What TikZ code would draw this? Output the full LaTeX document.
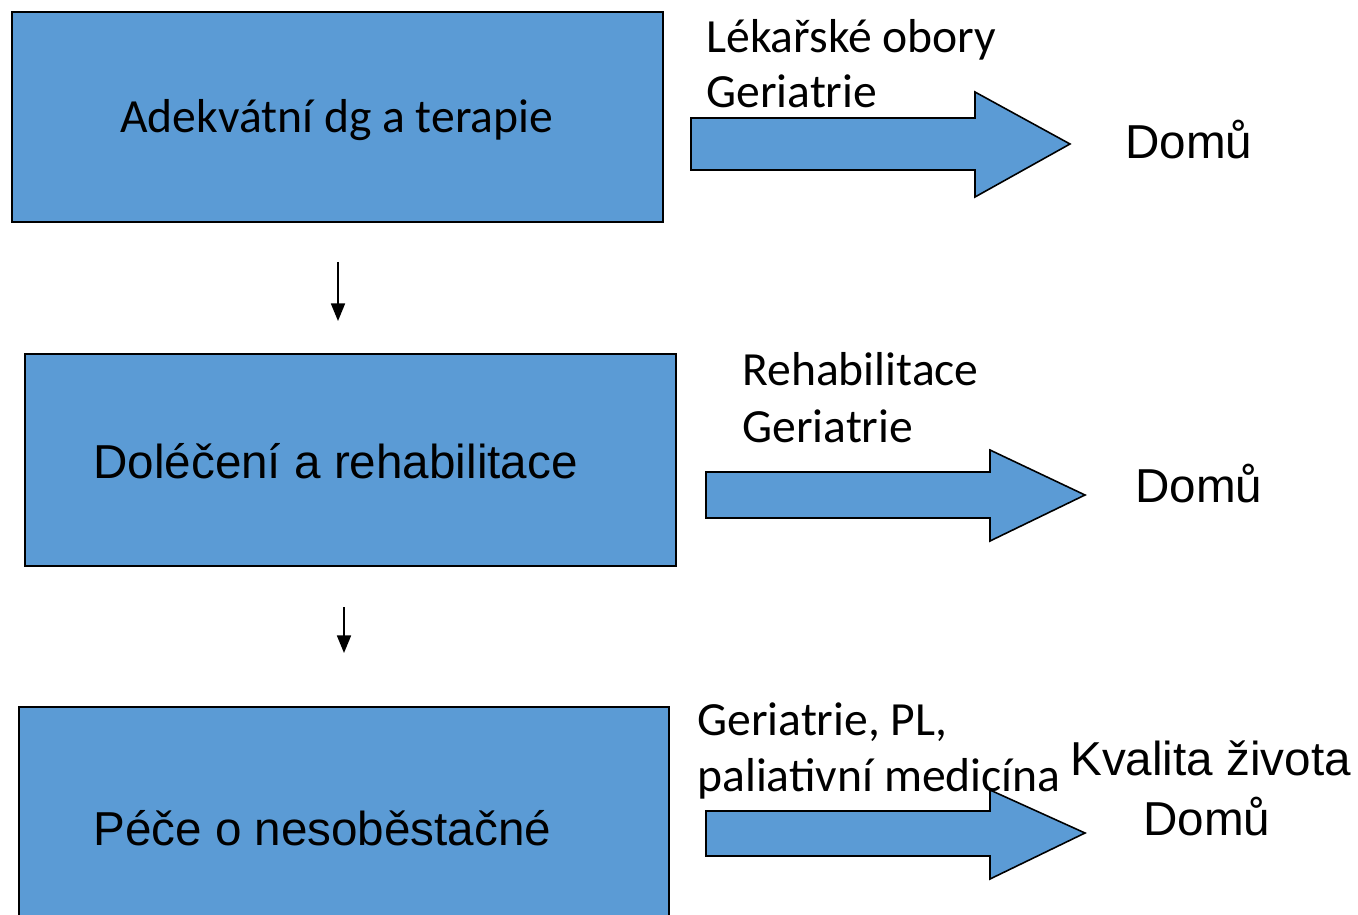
\documentclass[tikz,border=0pt]{standalone}
\usepackage{fontspec}
\setmainfont{Carlito}
\newfontfamily\arialf{Liberation Sans}
\usetikzlibrary{arrows.meta}
\definecolor{boxblue}{HTML}{5B9BD5}
\tikzset{
  box/.style={draw=black, fill=boxblue, line width=1.1pt},
  blockarrow/.style={draw=black, fill=boxblue, line width=0.9pt, line join=miter},
  txt/.style={anchor=base west, inner sep=0pt, font=\fontsize{27.1}{32}\selectfont},
  atxt/.style={anchor=base west, inner sep=0pt, font=\arialf\fontsize{27.1}{32}\selectfont},
  downarrow/.style={line width=0.9pt, -{Triangle[width=8pt,length=10pt]}}
}
\begin{document}
\begin{tikzpicture}[x=0.02cm, y=-0.02cm]
\useasboundingbox (0,0) rectangle (1358,915);
% boxes
\draw[box] (12,12) rectangle (663,222);
\draw[box] (25,354) rectangle (676,566);
\draw[box] (19,707) rectangle (669,930);
\node[txt] (t1) at (120,133) {Adekvátní dg a terapie};
\node[atxt] (t2) at (93,478) {Doléčení a rehabilitace};
\node[atxt] (t3) at (93,845) {Péče o nesoběstačné};
% small down arrows
\coordinate (a1s) at (338,262);
\coordinate (a1e) at (338,321);
\coordinate (a2s) at (344,607);
\coordinate (a2e) at (344,653);
\draw[downarrow] (a1s) -- (a1e);
\draw[downarrow] (a2s) -- (a2e);
% block arrows
\draw[blockarrow] (691,118) -- (975,118) -- (975,92) -- (1070,144) -- (975,197) -- (975,170) -- (691,170) -- cycle;
\draw[blockarrow] (706,472) -- (990,472) -- (990,450) -- (1085,495) -- (990,541) -- (990,518) -- (706,518) -- cycle;
\draw[blockarrow] (706,811) -- (990,811) -- (990,790) -- (1085,833) -- (990,879) -- (990,856) -- (706,856) -- cycle;
% labels
\node[txt] (l1a) at (706,53) {Lékařské obory};
\node[txt] (l1b) at (706,108) {Geriatrie};
\node[atxt] (d1) at (1125,159) {Domů};
\node[txt] (l2a) at (742,385) {Rehabilitace};
\node[txt] (l2b) at (742,442) {Geriatrie};
\node[atxt] (d2) at (1135,502) {Domů};
\node[txt] (l3a) at (697,735) {Geriatrie, PL,};
\node[txt] (l3b) at (697,791) {paliativní medicína};
\node[atxt] (k3) at (1070,775) {Kvalita života};
\node[atxt] (d3) at (1143,835) {Domů};
\end{tikzpicture}
\end{document}
